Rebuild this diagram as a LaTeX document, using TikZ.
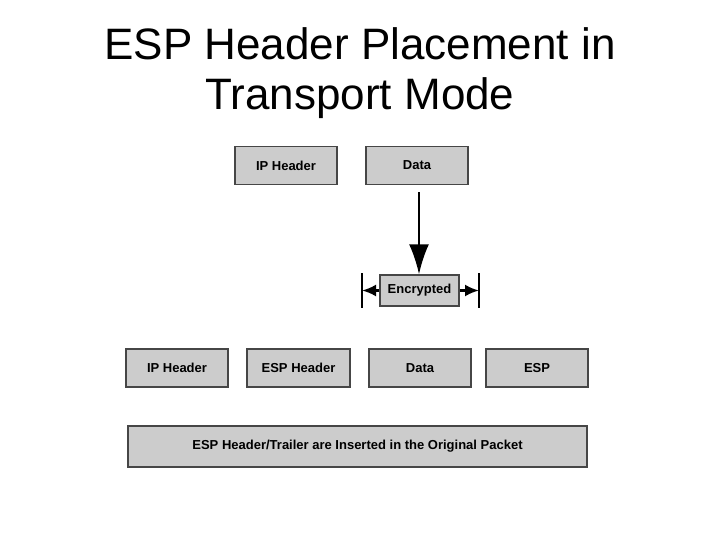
\documentclass[tikz,border=0pt]{standalone}
\usepackage{fontspec}
\setmainfont{Liberation Sans}
\usetikzlibrary{arrows.meta}
\definecolor{boxfill}{RGB}{204,204,204}
\definecolor{boxline}{RGB}{70,70,70}
\begin{document}
\begin{tikzpicture}[
        x=1pt, y=-1pt,
        field/.style={rectangle, draw=boxline, line width=1.5pt, fill=boxfill, minimum height=38pt, inner sep=0pt, font=\bfseries\fontsize{13}{15}\selectfont},
        title/.style={font=\fontsize{44}{50}\selectfont, align=center},
        big_arrow/.style={-{Latex[length=30pt, width=20pt]}, line width=2pt},
        side_arrow/.style={-{Latex[length=14pt, width=12pt]}, line width=2.4pt}
    ]
        \useasboundingbox (0,0) rectangle (720,540);

        % Title
        \node[title] (title) at (360,73) {ESP Header Placement in\\Transport Mode};

        % Original packet
        \node[field, minimum width=102pt] (ip_top) at (286,165.5) {IP Header};
        \node[field, minimum width=102pt] (data_top) at (417,165.5) {Data};

        % Encrypted part
        \node[field, minimum width=79pt, minimum height=31pt] (encrypted) at (419.5,290.5) {Encrypted};
        \coordinate (enc_left) at (362,290.5);
        \coordinate (enc_right) at (479,290.5);
        \draw[line width=2.4pt] (362,273) -- (362,308);
        \draw[line width=2.4pt] (479,273) -- (479,308);
        \draw[side_arrow] (encrypted.west) -- (enc_left);
        \draw[side_arrow] (encrypted.east) -- (enc_right);
        \draw[big_arrow] (data_top.south) ++(2,7) coordinate (arrow_start) -- (encrypted.north -| arrow_start);

        % Packet with ESP header and trailer
        \node[field, minimum width=102pt] (ip_new) at (177,368) {IP Header};
        \node[field, minimum width=103pt] (esp_header) at (298.5,368) {ESP Header};
        \node[field, minimum width=102pt] (data_new) at (420,368) {Data};
        \node[field, minimum width=102pt] (esp_trailer) at (537,368) {ESP};

        % Caption box
        \node[field, minimum width=459pt, minimum height=41pt] (caption) at (357.5,446.5) {ESP Header/Trailer are Inserted in the Original Packet};

    \end{tikzpicture}
\end{document}
